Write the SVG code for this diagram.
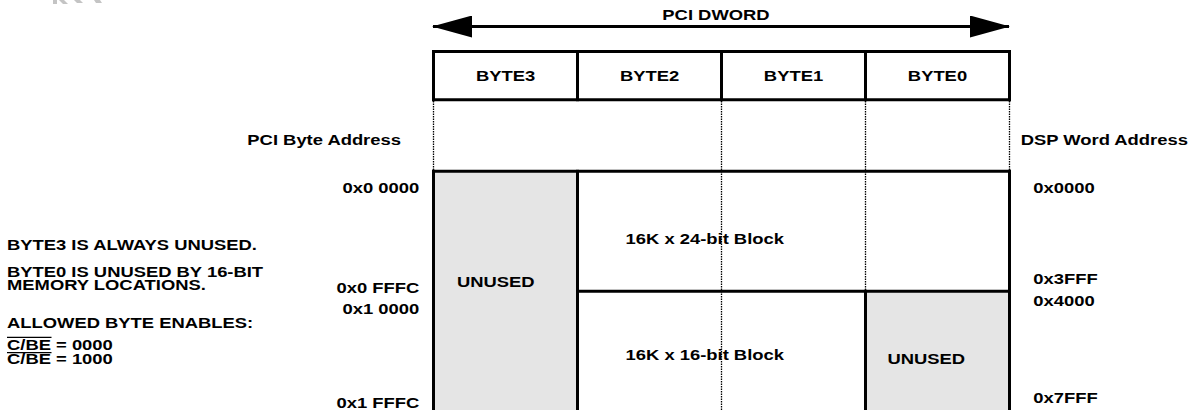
<svg xmlns="http://www.w3.org/2000/svg" width="1201" height="410" viewBox="0 0 1201 410">
  <style>
    .t { font-family: "Liberation Sans", Arial, sans-serif; font-weight: bold; font-size: 15.5px; fill: #000; }
    .thick { stroke: #000; stroke-width: 3; fill: none; stroke-linecap: square; }
    .dot { stroke: #000; stroke-width: 1.3; fill: none; stroke-dasharray: 1.5 1; }
    .grey { fill: #e5e5e5; stroke: none; }
    .wm { fill: #c4c4c4; }
  </style>
  <defs>
    <marker id="ah" viewBox="0 0 40 22" refX="39" refY="11" markerWidth="40" markerHeight="22" markerUnits="userSpaceOnUse" orient="auto-start-reverse">
      <path d="M0,0 L40,11 L0,22 Z" fill="#000"/>
    </marker>
  </defs>
  <rect width="1201" height="410" fill="#fff"/>

  <g id="watermark">
    <polygon class="wm" points="53,0 57,0 57,4 53,4"/>
    <polygon class="wm" points="59,0 64,0 68,4 63,4"/>
    <polygon class="wm" points="74,0 80,0 83,3 77,3"/>
    <polygon class="wm" points="94,0 100,0 102,3 96,3"/>
  </g>

  <g id="fills">
    <rect class="grey" x="433.5" y="171.3" width="144" height="240"/>
    <rect class="grey" x="865.5" y="291.3" width="144" height="120"/>
  </g>

  <g id="header">
    <line class="thick" x1="433.5" y1="51.5" x2="1009.5" y2="51.5"/>
    <line class="thick" x1="433.5" y1="99.7" x2="1009.5" y2="99.7"/>
    <line class="thick" x1="433.5" y1="51.5" x2="433.5" y2="99.7"/>
    <line class="thick" x1="577.5" y1="51.5" x2="577.5" y2="99.7"/>
    <line class="thick" x1="721.5" y1="51.5" x2="721.5" y2="99.7"/>
    <line class="thick" x1="865.5" y1="51.5" x2="865.5" y2="99.7"/>
    <line class="thick" x1="1009.5" y1="51.5" x2="1009.5" y2="99.7"/>
  </g>

  <g id="guides">
    <line class="dot" x1="433.5" y1="101" x2="433.5" y2="170"/>
    <line class="dot" x1="721.5" y1="101" x2="721.5" y2="410"/>
    <line class="dot" x1="865.5" y1="101" x2="865.5" y2="290"/>
    <line class="dot" x1="1009.5" y1="101" x2="1009.5" y2="170"/>
  </g>

  <g id="memory-map">
    <line class="thick" x1="433.5" y1="171.3" x2="1009.5" y2="171.3"/>
    <line class="thick" x1="577.5" y1="291.3" x2="1009.5" y2="291.3"/>
    <line class="thick" x1="433.5" y1="171.3" x2="433.5" y2="412"/>
    <line class="thick" x1="577.5" y1="171.3" x2="577.5" y2="412"/>
    <line class="thick" x1="865.5" y1="291.3" x2="865.5" y2="412"/>
    <line class="thick" x1="1009.5" y1="171.3" x2="1009.5" y2="412"/>
  </g>

  <g id="connectors">
    <line x1="433" y1="26.5" x2="1009" y2="26.5" stroke="#000" stroke-width="3" marker-start="url(#ah)" marker-end="url(#ah)"/>
  </g>

  <g transform="scale(1.187,1)">
    <g id="title"><text class="t" x="603.2" y="20.5" text-anchor="middle">PCI DWORD</text></g>
    <g id="byte3"><text class="t" x="425.9" y="81" text-anchor="middle">BYTE3</text></g>
    <g id="byte2"><text class="t" x="547.2" y="81" text-anchor="middle">BYTE2</text></g>
    <g id="byte1"><text class="t" x="668.5" y="81" text-anchor="middle">BYTE1</text></g>
    <g id="byte0"><text class="t" x="789.8" y="81" text-anchor="middle">BYTE0</text></g>

    <g id="pci-addr-label"><text class="t" x="337.8" y="145" text-anchor="end">PCI Byte Address</text></g>
    <g id="dsp-addr-label"><text class="t" x="859.9" y="145">DSP Word Address</text></g>

    <g id="pci-addresses">
      <text class="t" x="353.2" y="192.7" text-anchor="end">0x0 0000</text>
      <text class="t" x="353.2" y="293" text-anchor="end">0x0 FFFC</text>
      <text class="t" x="353.2" y="314" text-anchor="end">0x1 0000</text>
      <text class="t" x="353.2" y="408" text-anchor="end">0x1 FFFC</text>
    </g>
    <g id="dsp-addresses">
      <text class="t" x="870.5" y="192.7">0x0000</text>
      <text class="t" x="870.5" y="284">0x3FFF</text>
      <text class="t" x="870.5" y="305.7">0x4000</text>
      <text class="t" x="870.5" y="403">0x7FFF</text>
    </g>

    <g id="notes">
      <text class="t" x="5.9" y="250">BYTE3 IS ALWAYS UNUSED.</text>
      <text class="t" x="5.9" y="277">BYTE0 IS UNUSED BY 16-BIT</text>
      <text class="t" x="5.9" y="290">MEMORY LOCATIONS.</text>
      <text class="t" x="5.9" y="328">ALLOWED BYTE ENABLES:</text>
      <text class="t" x="5.9" y="350">C/BE = 0000</text>
      <text class="t" x="5.9" y="364">C/BE = 1000</text>
    </g>

    <g id="unused-byte3"><text class="t" x="385" y="287">UNUSED</text></g>
    <g id="block-24"><text class="t" x="527" y="244">16K x 24-bit Block</text></g>
    <g id="block-16"><text class="t" x="527" y="360">16K x 16-bit Block</text></g>
    <g id="unused-byte0"><text class="t" x="747.7" y="364">UNUSED</text></g>
  </g>

  <g id="overlines">
    <line x1="7" y1="337.3" x2="51.5" y2="337.3" stroke="#000" stroke-width="1.3"/>
    <line x1="7" y1="352.7" x2="51.5" y2="352.7" stroke="#000" stroke-width="1.3"/>
  </g>
</svg>
